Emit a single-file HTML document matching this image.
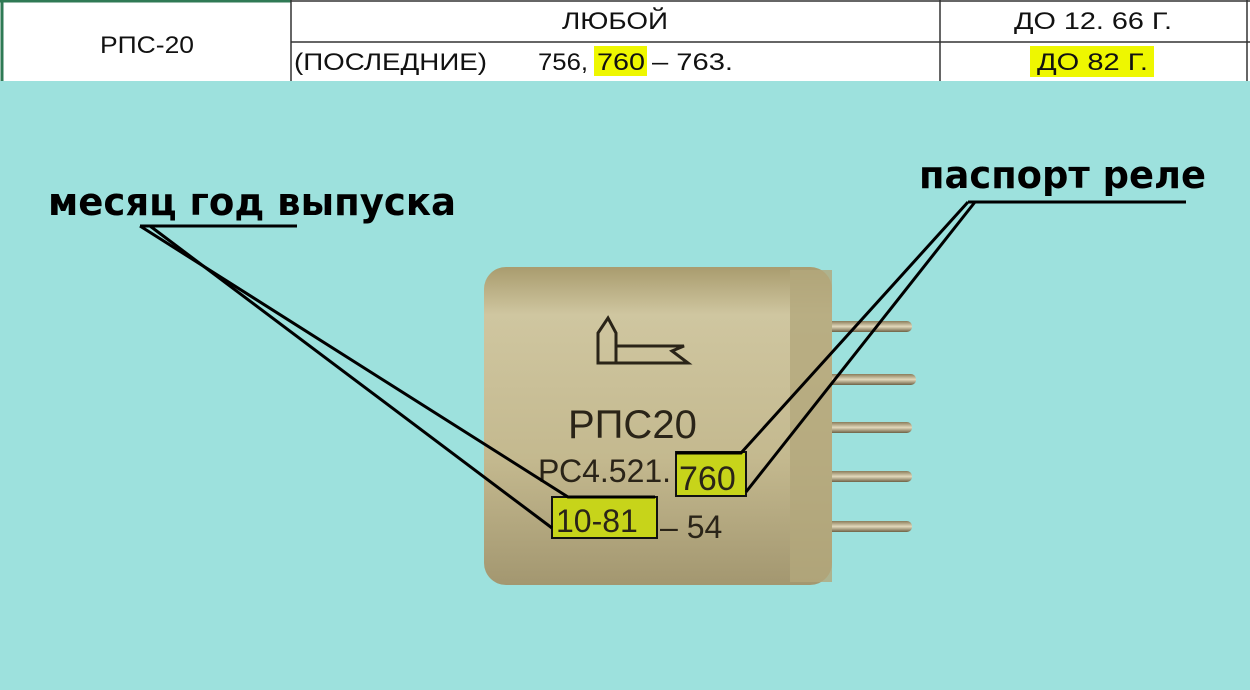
<!DOCTYPE html>
<html><head><meta charset="utf-8"><style>
body{margin:0;width:1250px;height:690px;overflow:hidden;background:#fff}
svg{display:block}
</style></head><body>
<svg width="1250" height="690" viewBox="0 0 1250 690">
<defs>
<linearGradient id="body" x1="0" y1="0" x2="0" y2="1">
<stop offset="0" stop-color="#a99c6e"/><stop offset="0.15" stop-color="#cfc6a0"/><stop offset="0.6" stop-color="#c4b98f"/><stop offset="1" stop-color="#a39770"/>
</linearGradient>
<linearGradient id="pin" x1="0" y1="0" x2="0" y2="1">
<stop offset="0" stop-color="#8a7c5a"/><stop offset="0.5" stop-color="#e2d9bb"/><stop offset="1" stop-color="#6e6246"/>
</linearGradient>
</defs>
<g font-family="Liberation Sans, Arial, sans-serif" font-size="24" fill="#111" lengthAdjust="spacingAndGlyphs">
<rect x="0" y="0" width="1250" height="81" fill="#fff"/>
<line x1="0" y1="1" x2="291" y2="1" stroke="#2f7a55" stroke-width="3"/>
<line x1="2" y1="0" x2="2" y2="81" stroke="#2f7a55" stroke-width="3"/>
<line x1="291" y1="0" x2="291" y2="81" stroke="#333" stroke-width="1.5"/>
<line x1="940" y1="0" x2="940" y2="81" stroke="#333" stroke-width="1.5"/>
<line x1="1247" y1="0" x2="1247" y2="81" stroke="#333" stroke-width="1.5"/>
<line x1="291" y1="42" x2="1250" y2="42" stroke="#333" stroke-width="1.5"/>
<line x1="291" y1="1" x2="1250" y2="1" stroke="#333" stroke-width="1.5"/>
<text x="100" y="53" textLength="94" lengthAdjust="spacingAndGlyphs">РПС-20</text>
<text x="562" y="29" textLength="106" lengthAdjust="spacingAndGlyphs">ЛЮБОЙ</text>
<text x="1014" y="29" textLength="158" lengthAdjust="spacingAndGlyphs">ДО 12. 66 Г.</text>
<rect x="594" y="46" width="53" height="30" fill="#eef700"/>
<text x="294" y="70" textLength="193" lengthAdjust="spacingAndGlyphs">(ПОСЛЕДНИЕ)</text>
<text x="538" y="70" textLength="50" lengthAdjust="spacingAndGlyphs">756,</text>
<text x="597" y="70" textLength="48" lengthAdjust="spacingAndGlyphs">760</text>
<text x="652" y="70" textLength="81" lengthAdjust="spacingAndGlyphs">– 763.</text>
<rect x="1030" y="46" width="124" height="31" fill="#eef700"/>
<text x="1037" y="70" textLength="111" lengthAdjust="spacingAndGlyphs">ДО 82 Г.</text>
</g>
<rect x="0" y="81" width="1250" height="609" fill="#9de1dd"/>
<g>
<rect x="820" y="321" width="92" height="11" rx="5" fill="url(#pin)"/>
<rect x="820" y="374" width="96" height="11" rx="5" fill="url(#pin)"/>
<rect x="820" y="422" width="92" height="11" rx="5" fill="url(#pin)"/>
<rect x="820" y="471" width="92" height="11" rx="5" fill="url(#pin)"/>
<rect x="820" y="521" width="92" height="11" rx="5" fill="url(#pin)"/>
</g>
<g>
<rect x="484" y="267" width="348" height="318" rx="22" fill="url(#body)"/>
<rect x="790" y="270" width="42" height="312" fill="#b3a77c" opacity="0.8"/>
<path d="M598,353 L598,333 L608,318 L616,333 L616,363 L688,363 L672,351 L684,346 L616,346" fill="none" stroke="#2a2418" stroke-width="3"/>
<path d="M598,353 L598,363 L616,363" fill="none" stroke="#2a2418" stroke-width="3"/>
<text x="568" y="438" font-family="Liberation Sans, sans-serif" font-size="40" fill="#2a2418">РПС20</text>
<text x="538" y="482" font-family="Liberation Sans, sans-serif" font-size="32" fill="#2a2418">РС4.521.</text>
<rect x="676" y="452" width="70" height="44" fill="#c7d41a" stroke="#111" stroke-width="2"/>
<text x="679" y="490" font-family="Liberation Sans, sans-serif" font-size="34" fill="#2a2418">760</text>
<rect x="552" y="497" width="105" height="41" fill="#c7d41a" stroke="#111" stroke-width="2"/>
<text x="556" y="532" font-family="Liberation Sans, sans-serif" font-size="32" fill="#2a2418">10-81</text>
<text x="660" y="538" font-family="Liberation Sans, sans-serif" font-size="32" fill="#2a2418">– 54</text>
</g>
<g stroke="#000" stroke-width="3" fill="none">
<line x1="140" y1="226" x2="297" y2="226"/>
<polyline points="140,226 568,497 655,497"/>
<line x1="150" y1="226" x2="552" y2="528"/>
</g>
<text x="48" y="215" font-family="DejaVu Sans, sans-serif" font-weight="bold" font-size="38" fill="#000" textLength="408" lengthAdjust="spacingAndGlyphs">месяц год выпуска</text>
<g stroke="#000" stroke-width="3" fill="none">
<line x1="968" y1="202" x2="1186" y2="202"/>
<polyline points="968,202 741,453 676,453"/>
<line x1="975" y1="202" x2="746" y2="492"/>
</g>
<text x="919" y="188" font-family="DejaVu Sans, sans-serif" font-weight="bold" font-size="38" fill="#000" textLength="287" lengthAdjust="spacingAndGlyphs">паспорт реле</text>
</svg>
</body></html>
